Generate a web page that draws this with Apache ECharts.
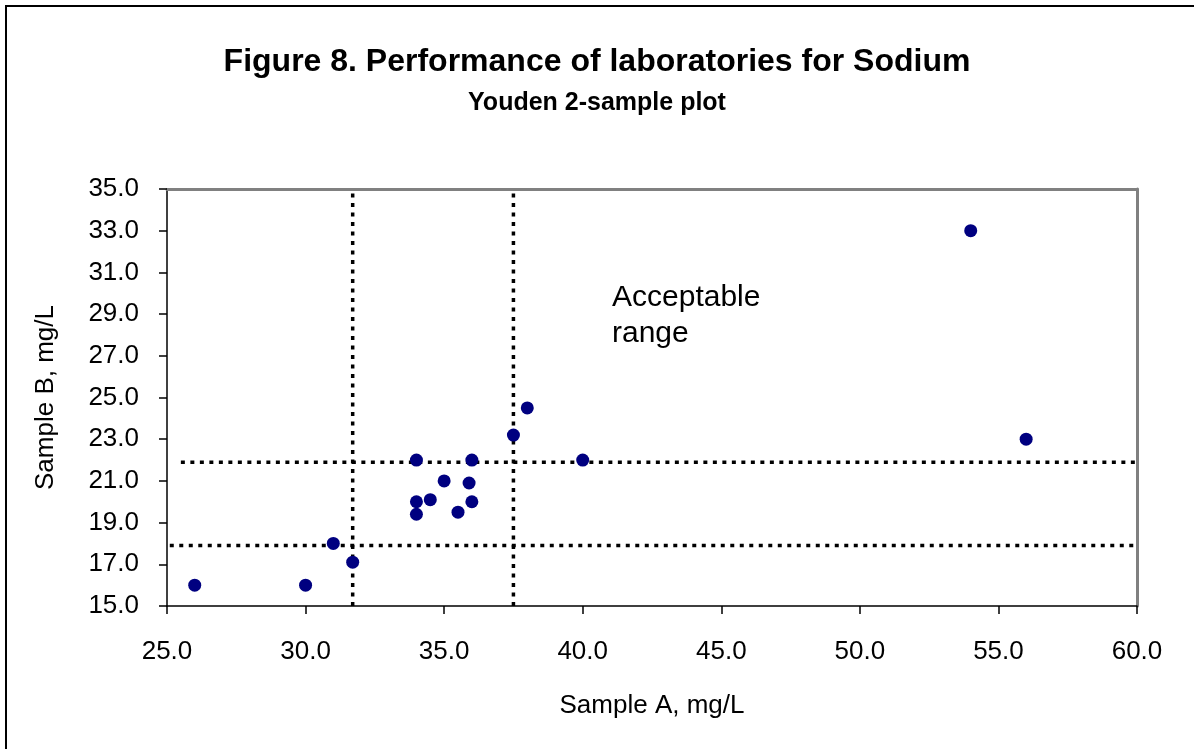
<!DOCTYPE html>
<html>
<head>
    <meta charset="utf-8">
    <title>Figure 8. Performance of laboratories for Sodium</title>
    <script src="https://cdn.jsdelivr.net/npm/echarts@6.0.0/dist/echarts.min.js"></script>
    <style>
        html, body { margin: 0; padding: 0; background: #fff; }
        #main { width: 1194px; height: 749px; }
    </style>
</head>
<body>
    <div id="main"></div>
    <script>
        const sampleA = [26.0, 30.0, 31.0, 31.7, 34.0, 34.0, 34.0, 34.5, 35.0, 35.5, 35.9, 36.0, 36.0, 37.5, 38.0, 40.0, 54.0, 56.0];
        const sampleB = [16.0, 16.0, 18.0, 17.1, 22.0, 20.0, 19.4, 20.1, 21.0, 19.5, 20.9, 22.0, 20.0, 23.2, 24.5, 22.0, 33.0, 23.0];

        // acceptable range limits (dotted lines)
        const limitsA = [31.7, 37.5];
        const limitsB = [21.9, 17.9];
        const limitsBStart = [25.5, 25.1];

        const xRange = [25, 60];
        const yRange = [15, 35];

        const FONT = '"Liberation Sans", Arial, sans-serif';

        const points = sampleA.map((a, i) => [a, sampleB[i]]);

        const dotted = {
            color: '#000',
            width: 3.5,
            type: [4, 5.5],
            cap: 'butt'
        };

        const series = [];
        limitsA.forEach(v => {
            series.push({
                type: 'line',
                data: [[v, yRange[0]], [v, yRange[1]]],
                symbol: 'none',
                lineStyle: dotted,
                silent: true,
                z: 1
            });
        });
        limitsB.forEach((v, i) => {
            series.push({
                type: 'line',
                data: [[limitsBStart[i], v], [xRange[1], v]],
                symbol: 'none',
                lineStyle: dotted,
                silent: true,
                z: 1
            });
        });
        series.push({
            type: 'scatter',
            data: points,
            symbol: 'circle',
            symbolSize: 13,
            itemStyle: { color: '#000080', opacity: 1 },
            z: 5
        });

        const chart = echarts.init(document.getElementById('main'));

        const option = {
            backgroundColor: '#fff',
            animation: false,
            textStyle: { fontFamily: FONT },
            title: {
                text: 'Figure 8. Performance of laboratories for Sodium',
                subtext: 'Youden 2-sample plot',
                left: 'center',
                top: 41,
                itemGap: 13,
                textStyle: { fontFamily: FONT, fontSize: 32, fontWeight: 'bold', color: '#000' },
                subtextStyle: { fontFamily: FONT, fontSize: 25, fontWeight: 'bold', color: '#000' }
            },
            grid: {
                left: 167,
                right: 57,
                top: 189,
                bottom: 143
            },
            xAxis: [{
                type: 'value',
                min: xRange[0],
                max: xRange[1],
                interval: 5,
                name: 'Sample A, mg/L',
                nameLocation: 'middle',
                nameGap: 87,
                nameTextStyle: { fontFamily: FONT, fontSize: 26, color: '#000' },
                axisLine: { onZero: false, lineStyle: { color: '#000', width: 1.5 } },
                axisTick: { inside: false, length: 8, lineStyle: { color: '#000', width: 1.5 } },
                axisLabel: {
                    fontFamily: FONT, fontSize: 26, color: '#000', margin: 33,
                    formatter: v => v.toFixed(1)
                },
                splitLine: { show: false }
            }, {
                type: 'value',
                position: 'top',
                min: xRange[0],
                max: xRange[1],
                axisLine: { onZero: false, lineStyle: { color: '#808080', width: 3 } },
                axisTick: { show: false },
                axisLabel: { show: false },
                splitLine: { show: false }
            }],
            yAxis: [{
                type: 'value',
                min: yRange[0],
                max: yRange[1],
                interval: 2,
                name: 'Sample B, mg/L',
                nameLocation: 'middle',
                nameGap: 108,
                nameTextStyle: { fontFamily: FONT, fontSize: 26, color: '#000' },
                axisLine: { onZero: false, lineStyle: { color: '#000', width: 1.5 } },
                axisTick: { inside: false, length: 8, lineStyle: { color: '#000', width: 1.5 } },
                axisLabel: {
                    fontFamily: FONT, fontSize: 26, color: '#000', margin: 28,
                    formatter: v => v.toFixed(1)
                },
                splitLine: { show: false }
            }, {
                type: 'value',
                position: 'right',
                min: yRange[0],
                max: yRange[1],
                axisLine: { onZero: false, lineStyle: { color: '#808080', width: 3 } },
                axisTick: { show: false },
                axisLabel: { show: false },
                splitLine: { show: false }
            }],
            graphic: [{
                type: 'rect',
                shape: { x: 6, y: 6, width: 1220, height: 780 },
                style: { fill: 'none', stroke: '#000', lineWidth: 2 },
                silent: true
            }, {
                type: 'text',
                left: 612,
                top: 280,
                style: {
                    text: 'Acceptable\nrange',
                    font: '30px ' + FONT,
                    fill: '#000',
                    lineHeight: 36
                },
                silent: true
            }],
            series: series
        };

        chart.setOption(option);
    </script>
</body>
</html>
